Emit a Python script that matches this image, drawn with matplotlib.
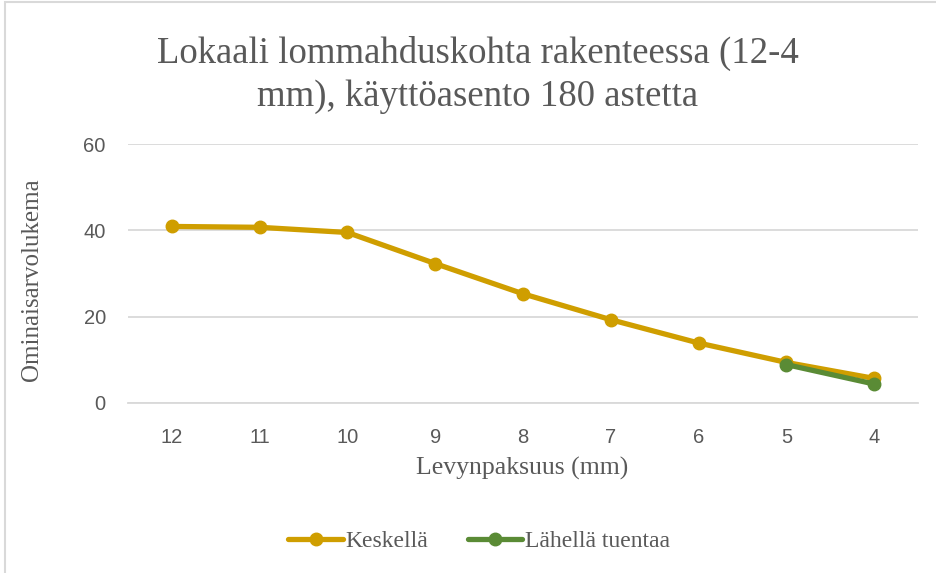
import matplotlib.pyplot as plt
from matplotlib.patches import Rectangle

categories = ["12", "11", "10", "9", "8", "7", "6", "5", "4"]
keskella = [40.9, 40.7, 39.5, 32.3, 25.3, 19.3, 13.9, 9.4, 5.7]
lahella_idx = [7, 8]
lahella = [8.9, 4.4]

gold = "#CF9E00"
green = "#5A8B35"
grey = "#595959"
serif = "Liberation Serif"

fig = plt.figure(figsize=(9.36, 5.73), dpi=100)
ax = fig.add_axes([128 / 936, 1 - 403 / 573, 790 / 936, 259 / 573])

x = list(range(len(categories)))
ax.plot(x, keskella, color=gold, lw=3.8, marker="o", ms=9, label="Keskellä",
        solid_capstyle="round")
ax.plot(lahella_idx, lahella, color=green, lw=3.8, marker="o", ms=9,
        label="Lähellä tuentaa", solid_capstyle="round")

ax.set_xlim(-0.5, len(categories) - 0.5)
ax.set_ylim(0, 60)
ax.set_yticks([0, 20, 40, 60])
ax.set_xticks(x)
ax.set_xticklabels(categories)
ax.grid(axis="y", color="#D9D9D9", lw=1.3)
ax.set_axisbelow(True)
for s in ["top", "right", "left"]:
    ax.spines[s].set_visible(False)
ax.spines["bottom"].set_color("#D9D9D9")
ax.spines["bottom"].set_linewidth(1.3)
ax.tick_params(length=0, labelsize=14.5, labelcolor=grey)
for lab in ax.get_xticklabels() + ax.get_yticklabels():
    lab.set_family("Liberation Sans")
ax.tick_params(axis="x", pad=18)
ax.tick_params(axis="y", pad=16)

fig.text(478 / 936, 1 - 75 / 573, "Lokaali lommahduskohta rakenteessa (12-4\nmm), käyttöasento 180 astetta",
         ha="center", va="center", family=serif, fontsize=26.5, color=grey, linespacing=1.3)
fig.text(522 / 936, 1 - 468 / 573, "Levynpaksuus (mm)", ha="center", va="center",
         family=serif, fontsize=18.5, color=grey)
fig.text(32 / 936, 1 - 280 / 573, "Ominaisarvolukema", ha="center", va="center",
         rotation=90, family=serif, fontsize=18, color=grey)

leg = fig.legend(loc="center", bbox_to_anchor=(479 / 936, 1 - 541 / 573), ncol=2,
                 frameon=False, prop={"family": serif, "size": 17}, handlelength=2.3,
                 handletextpad=0.1, columnspacing=1.7)
for t in leg.get_texts():
    t.set_color(grey)

fig.patches.append(Rectangle((5 / 936, -0.01), 1.0, 1 - 2 / 573 + 0.01, transform=fig.transFigure,
                             fill=False, edgecolor="#D9D9D9", lw=1.5))

fig.savefig("out.png", dpi=100)
